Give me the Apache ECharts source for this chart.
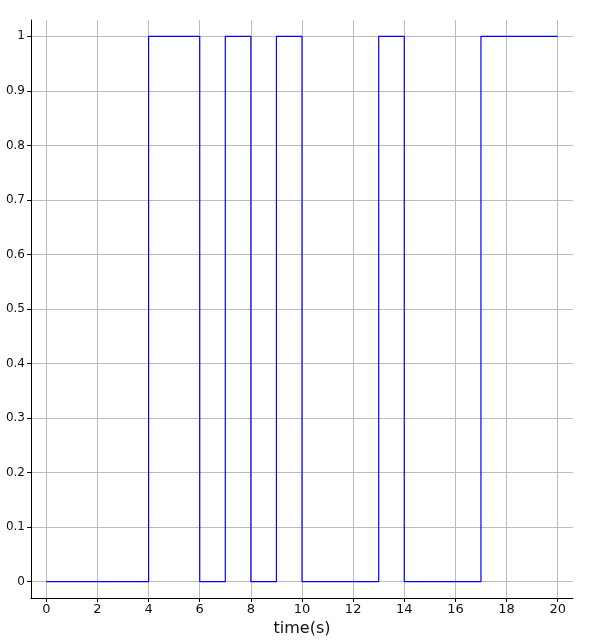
<!DOCTYPE html>
<html>
<head>
<meta charset="utf-8">
<script src="https://cdn.jsdelivr.net/npm/echarts@6/dist/echarts.min.js"></script>
<style>html,body{margin:0;padding:0;background:#fff;}#c{width:594px;height:641px;}</style>
</head>
<body>
<div id="c"></div>
<script>
const times = [0, 4, 6, 7, 8, 9, 10, 13, 14, 17, 20];
const signal = [0, 1, 0, 1, 0, 1, 0, 1, 0, 1, 1];
const xTicks = [0, 2, 4, 6, 8, 10, 12, 14, 16, 18, 20];
const yTicks = [0, 0.1, 0.2, 0.3, 0.4, 0.5, 0.6, 0.7, 0.8, 0.9, 1];
const xTitle = 'time(s)';

const chart = echarts.init(document.getElementById('c'), null, {renderer: 'canvas'});
const font = 'DejaVu Sans';
chart.setOption({
  animation: false,
  backgroundColor: '#fff',
  grid: {left: 31, top: 20, right: 21, bottom: 43, containLabel: false, outerBoundsMode: 'none'},
  xAxis: {
    type: 'value', min: -0.6, max: 20.6,
    name: xTitle, nameLocation: 'middle', nameGap: 23,
    nameTextStyle: {fontFamily: font, fontSize: 16, color: '#111'},
    axisLine: {show: true, onZero: false, lineStyle: {color: '#000', width: 1}},
    axisTick: {show: true, customValues: xTicks, length: 4, inside: false, lineStyle: {color: '#000'}},
    axisLabel: {customValues: xTicks, fontFamily: font, fontSize: 13, color: '#111', margin: 5,
      formatter: v => String(v)},
    splitLine: {show: true, customValues: xTicks, lineStyle: {color: '#bbb', width: 1}}
  },
  yAxis: {
    type: 'value', min: -0.03, max: 1.03,
    axisLine: {show: true, onZero: false, lineStyle: {color: '#000', width: 1}},
    axisTick: {show: true, customValues: yTicks, length: 4, lineStyle: {color: '#000'}},
    axisLabel: {customValues: yTicks, fontFamily: font, fontSize: 12, color: '#111', margin: 6,
      formatter: v => String(Math.round(v * 10) / 10)},
    splitLine: {show: true, customValues: yTicks, lineStyle: {color: '#bbb', width: 1}}
  },
  series: [{
    type: 'line',
    step: 'end',
    data: times.map((t, i) => [t, signal[i]]),
    showSymbol: false,
    symbol: 'none',
    lineStyle: {color: '#0000ff', width: 1.2},
    itemStyle: {color: '#0000ff'}
  }]
});
</script>
</body>
</html>
